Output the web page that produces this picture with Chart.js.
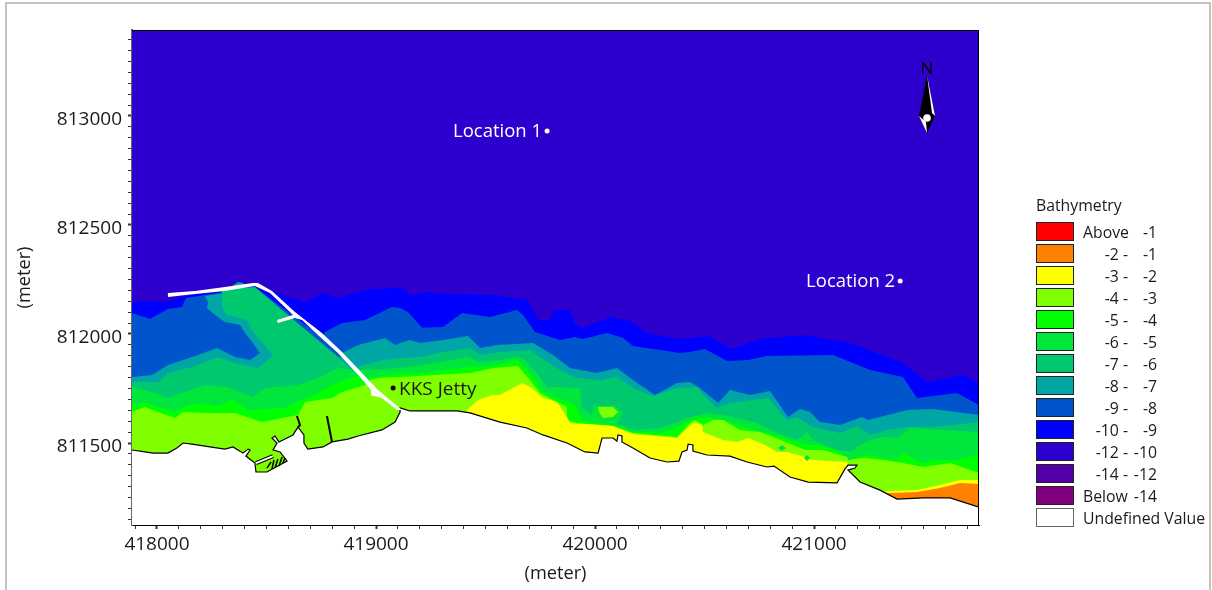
<!DOCTYPE html>
<html>
<head>
<meta charset="utf-8">
<title>Bathymetry</title>
<script src="https://cdn.jsdelivr.net/npm/chart.js@4/dist/chart.umd.min.js"></script>
<style>
  html, body { margin: 0; padding: 0; background: #fff; overflow: hidden; }
  canvas { display: block; }
</style>
</head>
<body>
<canvas id="map" width="1212" height="590"></canvas>
<script>
// map window in metres
const eastMin = 417886, eastMax = 421753;
const northMin = 811124, northMax = 813394;

// legend
const legendColors = ['#ff0000', '#ff8000', '#ffff00', '#80ff00', '#00ff00', '#00e63c', '#00c86e', '#00a5a5', '#0055cc', '#0000ff', '#2d00cd', '#5400aa', '#800080', '#ffffff'];
const legendLow = ['Above', '-2 -', '-3 -', '-4 -', '-5 -', '-6 -', '-7 -', '-8 -', '-9 -', '-10 -', '-12 -', '-14 -', 'Below'];
const legendHigh = ['-1', '-1', '-2', '-3', '-4', '-5', '-6', '-7', '-8', '-9', '-10', '-12', '-14'];

// depth contours, [easting, northing], read west to east
const contour10 = [[417886,812147],[417968,812151],[418037,812147],[418119,812170],[418174,812188],[418310,812206],[418447,812225],[418461,812225],[418571,812179],[418676,812147],[418767,812188],[418826,812165],[418950,812202],[419073,812211],[419110,812216],[419164,812174],[419233,812193],[419306,812183],[419415,812183],[419534,812179],[419694,812156],[419740,812064],[419794,812064],[419813,812110],[419886,812110],[419909,812046],[419941,812028],[420068,812078],[420160,812060],[420237,812005],[420388,811977],[420434,811982],[420516,811991],[420625,811931],[420753,811977],[420950,811995],[421164,811959],[421406,811867],[421516,811780],[421680,811812],[421753,811775]];
const contour9 = [[417886,812096],[417968,812069],[418050,812115],[418114,812124],[418132,812165],[418219,812179],[418447,812216],[418753,811986],[418767,812009],[418845,812050],[418950,812064],[419073,812124],[419110,812119],[419146,812101],[419210,812028],[419306,812032],[419393,812096],[419520,812078],[419644,812110],[419671,812087],[419726,812009],[419840,811972],[419909,811986],[419945,811977],[420055,812005],[420128,811982],[420173,811945],[420388,811913],[420434,811917],[420502,811931],[420603,811876],[420699,811881],[420785,811899],[421087,811904],[421256,811835],[421406,811803],[421470,811706],[421653,811729],[421753,811674]];
const contour8 = [[417886,811803],[417977,811812],[418050,811858],[418160,811894],[418274,811936],[418356,811894],[418425,811881],[418470,811913],[418434,811963],[418402,812005],[418379,812041],[418310,812055],[418265,812087],[418228,812119],[418233,812147],[418219,812174],[418447,812211],[418836,811890],[418845,811913],[418918,811950],[419041,811982],[419087,811950],[419110,811959],[419155,811972],[419201,811959],[419306,811972],[419420,811991],[419475,811936],[419552,811950],[419717,811959],[419808,811904],[419886,811844],[420009,811821],[420100,811844],[420173,811789],[420274,811720],[420374,811775],[420434,811780],[420479,811752],[420562,811683],[420616,811743],[420708,811720],[420799,811739],[420881,811619],[420936,811656],[420982,811642],[421027,811596],[421119,811583],[421219,811619],[421246,811605],[421425,811651],[421543,811656],[421753,811628]];
const contour7 = [[417886,811780],[418005,811780],[418050,811821],[418160,811849],[418279,811894],[418356,811867],[418461,811844],[418530,811899],[418484,811959],[418438,812009],[418411,812064],[418320,812087],[418297,812124],[418297,812206],[418447,812216],[418904,811826],[418918,811849],[419027,811881],[419110,811890],[419201,811894],[419306,811917],[419429,811936],[419475,811904],[419566,811917],[419703,811927],[419749,811894],[419840,811835],[419918,811798],[420023,811789],[420100,811803],[420173,811752],[420265,811716],[420374,811752],[420466,811757],[420493,811720],[420557,811661],[420616,811683],[420717,811697],[420790,811706],[420877,811605],[420922,811619],[420995,811573],[421119,811546],[421196,811578],[421256,811537],[421333,811560],[421425,811573],[421543,811573],[421753,811596]];
const contour6 = [[417886,811757],[417977,811734],[418050,811706],[418114,811729],[418219,811766],[418324,811757],[418434,811711],[418493,811752],[418644,811766],[418735,811798],[418826,811844],[418918,811835],[419110,811844],[419201,811858],[419292,811872],[419415,811894],[419475,811872],[419566,811881],[419644,811894],[419680,811881],[419749,811803],[419781,811752],[419817,811757],[419931,811752],[419941,811661],[419986,811628],[419991,811670],[420082,811674],[420128,811642],[420100,811592],[420173,811560],[420297,811569],[420374,811596],[420434,811619],[420525,811638],[420630,811619],[420740,811592],[420831,811546],[420922,811514],[420968,811550],[420995,811514],[421105,811468],[421164,811459],[421196,811482],[421256,811514],[421315,811528],[421379,811523],[421438,811569],[421589,811560],[421753,811550]];
const contour5 = [[417886,811683],[417913,811665],[417936,811688],[418005,811665],[418082,811642],[418142,811674],[418219,811683],[418265,811665],[418342,811697],[418416,811651],[418493,811656],[418584,811661],[418630,811683],[418735,811729],[418799,811766],[418890,811803],[418936,811803],[418963,811798],[419041,811812],[419110,811821],[419260,811826],[419429,811849],[419534,811853],[419648,811881],[419717,811803],[419762,811734],[419872,811688],[419909,811674],[419941,811605],[420082,811583],[420173,811550],[420297,811546],[420374,811569],[420434,811605],[420511,811619],[420584,811605],[420694,811569],[420767,811550],[420858,811528],[420936,811500],[420973,811491],[421027,811491],[421119,811459],[421151,811436],[421155,811413],[421196,811436],[421256,811445],[421315,811431],[421379,811422],[421406,811454],[421498,811408],[421543,811422],[421653,811422],[421753,811445]];
const contour4 = [[417886,811642],[417945,811665],[418005,811642],[418082,811615],[418119,811642],[418219,811638],[418310,811638],[418356,811638],[418479,811596],[418571,811615],[418644,811628],[418676,811688],[418799,811706],[418845,811734],[418950,811766],[418973,811789],[419009,811798],[419110,811803],[419260,811812],[419429,811821],[419534,811844],[419648,811853],[419703,811789],[419749,811729],[419826,811688],[419872,811665],[419872,811605],[419918,811592],[420082,811578],[420173,811546],[420374,811528],[420434,811592],[420457,811605],[420493,811583],[420539,811605],[420584,811605],[420662,811560],[420753,811550],[420813,811528],[420904,811491],[420959,811468],[421041,811468],[421151,811436],[421155,811422],[421224,811431],[421315,811422],[421406,811408],[421498,811390],[421621,811408],[421753,811362]];
const contour3 = [[419384,811605],[419420,811656],[419466,811697],[419530,811720],[419566,811720],[419667,811775],[419712,811752],[419762,811706],[419826,811688],[419872,811619],[419886,811592],[420023,811583],[420082,811578],[420173,811541],[420374,811523],[420447,811592],[420488,811587],[420493,811550],[420584,811514],[420648,811505],[420699,811523],[420776,811491],[420831,811459],[420877,811459],[420959,811436],[420995,811422],[421151,811413],[421164,811349],[421278,811275],[421347,811280],[421470,811285],[421575,811308],[421667,811330],[421753,811330]];
const contour2 = [[421301,811271],[421347,811271],[421470,811275],[421575,811294],[421667,811317],[421753,811312]];

// small closed patches inside the bands
const shoalPatch = [[420014,811665],[420082,811665],[420105,811642],[420082,811619],[420036,811615],[420018,811642]];
const spotOne = [[420835,811477],[420854,811491],[420872,811477],[420854,811463]];
const spotTwo = [[420954,811431],[420968,811445],[420982,811431],[420968,811417]];
const tealSliver = [[418342,812220],[418370,812238],[418393,812234],[418402,812220]];

// shoreline and harbour works
const coastline = [[417886,811468],[417945,811459],[417982,811454],[418050,811454],[418091,811477],[418119,811500],[418160,811495],[418219,811486],[418310,811472],[418347,811482],[418393,811454],[418416,811472],[418425,811468],[418406,811440],[418447,811408],[418452,811367],[418502,811367],[418594,811417],[418562,811459],[418530,811468],[418548,811500],[418525,811523],[418539,811532],[418557,811505],[418621,811537],[418644,811573],[418671,811537],[418671,811500],[418689,811472],[418758,811482],[418799,811505],[418872,811518],[418918,811532],[419027,811560],[419087,811596],[419110,811642],[419110,811661],[419155,811647],[419247,811647],[419370,811647],[419429,811638],[419566,811596],[419689,811569],[419762,811537],[419872,811500],[419954,811459],[420014,811454],[420032,811523],[420082,811523],[420100,811509],[420105,811537],[420123,811532],[420123,811505],[420173,811477],[420251,811431],[420329,811413],[420383,811417],[420397,811459],[420420,811468],[420425,811495],[420447,811491],[420447,811463],[420511,811445],[420616,811440],[420694,811413],[420785,811390],[420817,811394],[420890,811344],[420973,811321],[421105,811317],[421141,811381],[421155,811399],[421196,811399],[421187,811385],[421155,811376],[421210,811321],[421301,811284],[421379,811243],[421498,811248],[421621,811248],[421753,811206]];
const breakwater = [[418050,812188],[418174,812197],[418310,812216],[418438,812234],[418461,812234],[418525,812197],[418630,812101],[418753,812005],[418845,811917],[418936,811821],[419009,811743],[419119,811651],[419096,811651],[419027,811706],[418973,811720],[418977,811743],[418927,811803],[418826,811913],[418735,811995],[418662,812064],[418630,812073],[418552,812050],[418548,812064],[418621,812087],[418516,812188],[418447,812220],[418310,812197],[418174,812183],[418050,812170]];
const pierOne = [[418639,811624],[418653,811583],[418644,811573]];
const pierTwo = [[418776,811624],[418799,811505]];
const basinWall = [[418452,811408],[418530,811440]];
const basinComb = [[418502,811385],[418521,811413],null,[418525,811381],[418534,811422],null,[418539,811385],[418552,811427],null,[418557,811394],[418571,811436],null,[418575,811408],[418584,811431]];

// named places
const siteNames = ['Location 1', 'Location 2', 'KKS Jetty'];
const siteEast = [419781, 421393, 419078];
const siteNorth = [812931, 812243, 811752];

function toPoints(pairs) {
  return pairs.map(p => p ? { x: p[0], y: p[1] } : { x: null, y: null });
}

// everything south of a contour, closed along the bottom of the map
function filledBelow(pairs, color) {
  const pts = toPoints(pairs).concat([{ x: eastMax, y: northMin }, { x: eastMin, y: northMin }]);
  return { data: pts, showLine: true, fill: 'shape', backgroundColor: color, borderWidth: 0, borderColor: color, pointRadius: 0 };
}

function patch(pairs, color) {
  return { data: toPoints(pairs), showLine: true, fill: 'shape', backgroundColor: color, borderWidth: 0, borderColor: color, pointRadius: 0 };
}

function outline(pairs, color, width) {
  return { data: toPoints(pairs), showLine: true, fill: false, borderColor: color, borderWidth: width, pointRadius: 0 };
}

function sitePoint(i, color) {
  return { data: [{ x: siteEast[i], y: siteNorth[i] }], showLine: false, pointRadius: 2.5, backgroundColor: color, borderColor: color, borderWidth: 0 };
}

// painted back to front, shallower bands over deeper ones
const layers = [
  patch([[eastMin, northMax], [eastMax, northMax], [eastMax, northMin], [eastMin, northMin]], legendColors[10]),
  filledBelow(contour10, legendColors[9]),
  filledBelow(contour9, legendColors[8]),
  filledBelow(contour8, legendColors[7]),
  patch(tealSliver, legendColors[7]),
  filledBelow(contour7, legendColors[6]),
  filledBelow(contour6, legendColors[5]),
  filledBelow(contour5, legendColors[4]),
  filledBelow(contour4, legendColors[3]),
  patch(shoalPatch, legendColors[3]),
  filledBelow(contour3, legendColors[2]),
  patch(spotOne, legendColors[5]),
  patch(spotTwo, legendColors[5]),
  filledBelow(contour2, legendColors[1]),
  filledBelow(coastline, '#ffffff'),
  outline(coastline, '#000000', 1.2),
  outline(pierOne, '#000000', 2),
  outline(pierTwo, '#000000', 2),
  outline(basinComb, '#000000', 1.5),
  outline(basinWall, '#000000', 4),
  outline(basinWall, '#ffffff', 2),
  patch(breakwater, '#ffffff'),
  sitePoint(0, '#ffffff'),
  sitePoint(1, '#ffffff'),
  sitePoint(2, '#000000')
];

const textFont = '"Open Sans", sans-serif';

const mapDecor = {
  id: 'mapDecor',
  beforeDraw(chart) {
    const ctx = chart.ctx;
    ctx.save();
    ctx.strokeStyle = '#c4c4c4';
    ctx.lineWidth = 2;
    ctx.beginPath();
    ctx.moveTo(6, 590);
    ctx.lineTo(6, 3);
    ctx.lineTo(1210, 3);
    ctx.lineTo(1210, 590);
    ctx.stroke();
    ctx.restore();
  },
  afterDraw(chart) {
    const ctx = chart.ctx;
    const area = chart.chartArea;
    const xs = chart.scales.x, ys = chart.scales.y;
    ctx.save();

    // top and right edge of the map
    ctx.strokeStyle = '#000';
    ctx.lineWidth = 1;
    ctx.beginPath();
    ctx.moveTo(area.left, area.top + 0.5);
    ctx.lineTo(area.right - 0.5, area.top + 0.5);
    ctx.lineTo(area.right - 0.5, area.bottom);
    ctx.stroke();

    // place names
    ctx.textBaseline = 'middle';
    siteNames.forEach((name, i) => {
      const px = xs.getPixelForValue(siteEast[i]);
      const py = ys.getPixelForValue(siteNorth[i]);
      if (i < 2) {
        ctx.font = '18.5px ' + textFont;
        ctx.fillStyle = '#ffffff';
        ctx.textAlign = 'right';
        ctx.fillText(name, px - 5, py + 1);
      } else {
        ctx.font = '19px ' + textFont;
        ctx.fillStyle = '#1a1a1a';
        ctx.textAlign = 'left';
        ctx.fillText(name, px + 6, py + 2);
      }
    });

    drawNorthArrow(ctx, 927, 118);
    drawLegend(ctx);
    ctx.restore();
  }
};

function drawNorthArrow(ctx, cx, cy) {
  ctx.fillStyle = '#000';
  ctx.font = '17px ' + textFont;
  ctx.textAlign = 'center';
  ctx.textBaseline = 'middle';
  ctx.fillText('N', cx, cy - 49);
  const shape = (pts, color) => {
    ctx.fillStyle = color;
    ctx.beginPath();
    pts.forEach((p, i) => i ? ctx.lineTo(cx + p[0], cy + p[1]) : ctx.moveTo(cx + p[0], cy + p[1]));
    ctx.closePath();
    ctx.fill();
  };
  shape([[0, -43], [-8, -2], [0, 15], [8, -2]], '#000');
  shape([[0, -43], [8, -2], [5, -5]], '#fff');
  shape([[-8, -2], [0, 15], [-1, 4]], '#fff');
  ctx.fillStyle = '#fff';
  ctx.beginPath();
  ctx.arc(cx, cy, 3.8, 0, Math.PI * 2);
  ctx.fill();
}

function drawLegend(ctx) {
  ctx.font = '15.8px ' + textFont;
  ctx.textBaseline = 'middle';
  ctx.fillStyle = '#1a1a1a';
  ctx.textAlign = 'left';
  ctx.fillText('Bathymetry', 1036, 206);
  legendColors.forEach((color, i) => {
    const top = 222 + i * 22;
    ctx.fillStyle = color;
    ctx.fillRect(1036, top, 38, 19);
    ctx.strokeStyle = i === legendColors.length - 1 ? '#666' : '#222';
    ctx.lineWidth = 1;
    ctx.strokeRect(1036.5, top + 0.5, 37, 18);
    ctx.fillStyle = '#1a1a1a';
    const mid = top + 11;
    if (i === legendColors.length - 1) {
      ctx.textAlign = 'left';
      ctx.fillText('Undefined Value', 1083, mid);
      return;
    }
    const low = legendLow[i];
    if (low === 'Above' || low === 'Below') {
      ctx.textAlign = 'left';
      ctx.fillText(low, 1083, mid);
    } else {
      ctx.textAlign = 'right';
      ctx.fillText(low, 1128, mid);
    }
    ctx.textAlign = 'right';
    ctx.fillText(legendHigh[i], 1157, mid);
  });
}

new Chart(document.getElementById('map'), {
  type: 'scatter',
  data: { datasets: layers.slice().reverse() },
  options: {
    responsive: false,
    animation: false,
    devicePixelRatio: 1,
    layout: { padding: { left: 0, top: 30, right: 233, bottom: 0 } },
    elements: { line: { tension: 0 } },
    plugins: { legend: { display: false }, tooltip: { enabled: false } },
    scales: {
      x: {
        type: 'linear',
        min: eastMin,
        max: eastMax,
        afterFit: scale => { scale.height = 65; },
        title: { display: true, text: '(meter)', color: '#1a1a1a', font: { family: textFont, size: 18.2 }, padding: { top: 0, bottom: 5 } },
        border: { color: '#000', width: 1 },
        grid: { drawOnChartArea: false, tickLength: 4, tickColor: '#333', tickWidth: c => c.tick && c.tick.value % 1000 === 0 ? 2 : 1 },
        ticks: {
          stepSize: 100,
          includeBounds: false,
          autoSkip: false,
          maxRotation: 0,
          padding: 4,
          color: '#1a1a1a',
          font: { family: textFont, size: 19 },
          callback: v => v % 1000 === 0 ? String(v) : ''
        }
      },
      y: {
        type: 'linear',
        min: northMin,
        max: northMax,
        afterFit: scale => { scale.width = 132; },
        title: { display: true, text: '(meter)', color: '#1a1a1a', font: { family: textFont, size: 18.2 }, padding: { top: 14, bottom: 0 } },
        border: { color: '#666', width: 2 },
        grid: { drawOnChartArea: false, tickLength: 4, tickColor: '#333', tickWidth: c => c.tick && c.tick.value % 500 === 0 ? 2 : 1 },
        ticks: {
          stepSize: 50,
          includeBounds: false,
          autoSkip: false,
          padding: 6,
          labelOffset: 4,
          color: '#1a1a1a',
          font: { family: textFont, size: 19 },
          callback: v => v % 500 === 0 ? String(v) : ''
        }
      }
    }
  },
  plugins: [mapDecor]
});
</script>
</body>
</html>
